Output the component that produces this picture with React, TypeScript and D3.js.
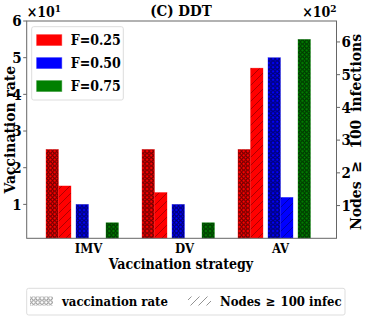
import React from 'react';
import * as d3 from 'd3';

const strategies = ['IMV', 'DV', 'AV'];
const fractions = ['F=0.25', 'F=0.50', 'F=0.75'];
const colors = ['#ff0000', '#0000ff', '#008000'];
const hatchColors = ['#990000', '#000099', '#002a00'];

// vaccination rate (left axis, shown x10^1)
const vaccF025 = [25, 25, 25];
const vaccF050 = [10, 10, 50];
const vaccF075 = [5, 5, 55];
// nodes >= 100 infections (right axis, shown x10^2)
const nodesF025 = [160, 140, 520];
const nodesF050 = [0, 0, 125];
const nodesF075 = [0, 0, 0];

const leftTicks = [10, 20, 30, 40, 50, 60];
const rightTicks = [100, 200, 300, 400, 500, 600];

const vaccSeries = [vaccF025, vaccF050, vaccF075];
const nodesSeries = [nodesF025, nodesF050, nodesF075];

const FONT = "'DejaVu Serif Condensed', 'DejaVu Serif', serif";

const App = () => {
  const W = 374, H = 327;
  const left = 26.7, right = 336.5, top = 21, bottom = 238.3;

  const x0 = d3.scaleBand().domain(strategies).range([40.5, 328.5]);
  const xF = d3.scaleBand().domain(fractions).range([0, x0.bandwidth()]).paddingOuter(0.1);
  const barW = xF.step() * 0.417;
  const yL = d3.scaleLinear().domain([0.75, 60]).range([bottom, top]);
  const yR = d3.scaleLinear().domain([0, 664]).range([bottom, top]);

  const fc = (s, f) => x0(s) + xF(f) + xF.bandwidth() / 2;

  return (
    <svg width={W} height={H} style={{ position: 'absolute', left: 0, top: 0, fontStretch: 'condensed' }} fontFamily={FONT} fontWeight="bold">
      <defs>
        {colors.map((c, i) => (
          <pattern key={'d' + i} id={'dots' + i} width={4.2} height={4.2} patternUnits="userSpaceOnUse">
            <rect width={4.2} height={4.2} fill={c} />
            <circle cx={2.1} cy={2.1} r={1.45} fill="none" stroke="#000" strokeOpacity={0.8} strokeWidth={0.9} />
          </pattern>
        ))}
        {colors.map((c, i) => (
          <pattern key={'h' + i} id={'hatch' + i} width={8} height={8} patternUnits="userSpaceOnUse">
            <rect width={8} height={8} fill={c} />
            <path d="M-2,10 L10,-2 M-2,2 L2,-2 M6,10 L10,6" stroke={hatchColors[i]} strokeWidth={0.8} />
          </pattern>
        ))}
        <pattern id="dotsLeg" width={4.2} height={4.2} patternUnits="userSpaceOnUse">
          <rect width={4.2} height={4.2} fill="#fff" />
          <circle cx={2.1} cy={2.1} r={1.45} fill="none" stroke="#666" strokeWidth={0.8} />
        </pattern>
        <pattern id="hatchLeg" width={8} height={8} patternUnits="userSpaceOnUse">
          <rect width={8} height={8} fill="#fff" />
          <path d="M-2,10 L10,-2 M-2,2 L2,-2 M6,10 L10,6" stroke="#777" strokeWidth={0.8} />
        </pattern>
        <clipPath id="plotClip">
          <rect x={left} y={top} width={right - left} height={bottom - top} />
        </clipPath>
      </defs>

      <g clipPath="url(#plotClip)">
        {strategies.map((s, si) =>
          fractions.map((f, fi) => {
            const c = fc(s, f);
            const v = vaccSeries[fi][si];
            const n = nodesSeries[fi][si];
            return (
              <g key={s + f}>
                <rect x={c - barW} y={yL(v)} width={barW} height={Math.max(0, yL(0) - yL(v))}
                  fill={`url(#dots${fi})`} stroke={colors[fi]} strokeOpacity={0.5} strokeWidth={0.6} />
                {n > 0 && (
                  <rect x={c} y={yR(n)} width={barW} height={bottom - yR(n)}
                    fill={`url(#hatch${fi})`} stroke={colors[fi]} strokeOpacity={0.5} strokeWidth={0.6} />
                )}
              </g>
            );
          })
        )}
      </g>

      {/* spines */}
      <rect x={left} y={top} width={right - left} height={bottom - top} fill="none" stroke="#666" strokeWidth={1} />

      {/* left axis */}
      {leftTicks.map((t) => (
        <g key={'l' + t} transform={`translate(${left},${yL(t)})`}>
          <line x1={-3.5} x2={0} stroke="#666" />
          <text x={-5} dy="0.35em" textAnchor="end" fontSize={15}>{t / 10}</text>
        </g>
      ))}
      <text x={left} y={17} fontSize={14}>×10<tspan dy={-5} fontSize={10}>1</tspan></text>

      {/* right axis */}
      {rightTicks.map((t) => (
        <g key={'r' + t} transform={`translate(${right},${yR(t)})`}>
          <line x1={0} x2={3.5} stroke="#666" />
          <text x={5} dy="0.35em" textAnchor="start" fontSize={15}>{t / 100}</text>
        </g>
      ))}
      <text x={right} y={17} textAnchor="end" fontSize={14}>×10<tspan dy={-5} fontSize={10}>2</tspan></text>

      {/* x axis labels */}
      {strategies.map((s) => (
        <text key={s} x={x0(s) + x0.bandwidth() / 2} y={253} textAnchor="middle" fontSize={13}>{s}</text>
      ))}
      <text x={181} y={269} textAnchor="middle" fontSize={14}>Vaccination strategy</text>

      <text x={181} y={16} textAnchor="middle" fontSize={15}>(C) DDT</text>

      <text transform={`translate(14.5,${(top + bottom) / 2}) rotate(-90)`} textAnchor="middle" fontSize={15.5}>Vaccination rate</text>
      <text transform={`translate(360.5,132) rotate(-90)`} textAnchor="middle" fontSize={15.5}>
        Nodes<tspan dx={9}>≥</tspan><tspan dx={12}>100</tspan><tspan dx={3}> infections</tspan>
      </text>

      {/* F legend */}
      <rect x={31.7} y={26.7} width={91.6} height={73.3} rx={2} fill="#fff" fillOpacity={0.8} stroke="#ddd" />
      {fractions.map((f, i) => (
        <g key={f} transform={`translate(0,${40 + i * 23})`}>
          <rect x={36.7} y={-5.3} width={25} height={10.7} fill={colors[i]} stroke={colors[i]} strokeOpacity={0.5} />
          <text x={70.7} dy="0.35em" fontSize={14}>{f}</text>
        </g>
      ))}

      {/* pattern legend */}
      <rect x={26.7} y={288.3} width={318.3} height={26.7} rx={2} fill="#fff" stroke="#ddd" />
      <rect x={30} y={296.5} width={23} height={9} fill="url(#dotsLeg)" />
      <text x={62} y={301.7} dy="0.35em" fontSize={13}>vaccination rate</text>
      <rect x={188} y={296.5} width={23} height={9} fill="url(#hatchLeg)" />
      <text x={220} y={301.7} dy="0.35em" fontSize={13}>Nodes<tspan dx={5}>≥</tspan><tspan dx={5}>100 infec</tspan></text>
    </svg>
  );
};

export default App;
